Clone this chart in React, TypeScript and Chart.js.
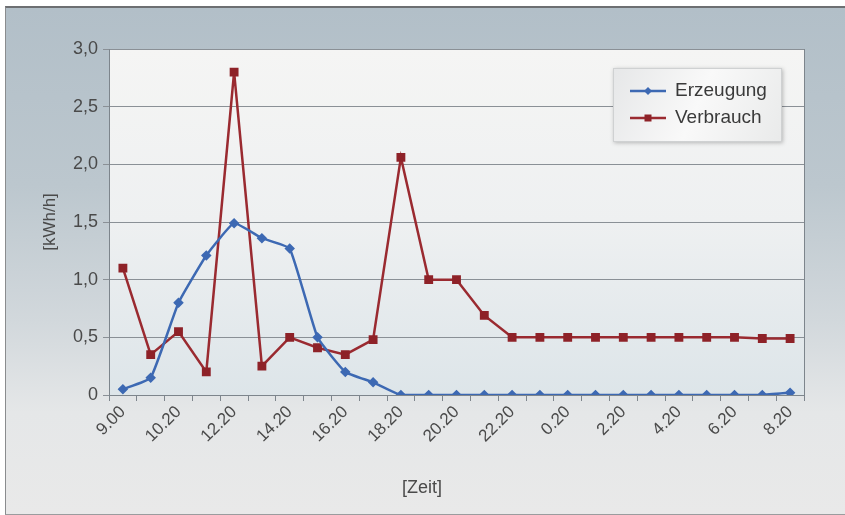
import { useEffect, useRef } from "react";
import { Chart, registerables } from "chart.js";

Chart.register(...registerables);

const times = [
  "9.00", "9.20", "10.20", "11.20", "12.20", "13.20", "14.20", "15.20", "16.20",
  "17.20", "18.20", "19.20", "20.20", "21.20", "22.20", "23.20", "0.20", "1.20",
  "2.20", "3.20", "4.20", "5.20", "6.20", "7.20", "8.20",
];

const erzeugung = [
  0.05, 0.15, 0.8, 1.21, 1.49, 1.36, 1.27, 0.5, 0.2, 0.11, 0, 0, 0,
  0, 0, 0, 0, 0, 0, 0, 0, 0, 0, 0, 0.02,
];

const verbrauch = [
  1.1, 0.35, 0.55, 0.2, 2.8, 0.25, 0.5, 0.41, 0.35, 0.48, 2.06, 1.0, 1.0,
  0.69, 0.5, 0.5, 0.5, 0.5, 0.5, 0.5, 0.5, 0.5, 0.5, 0.49, 0.49,
];

const FONT = "'Liberation Sans', Arial, Helvetica, sans-serif";
const TEXT = "#4a4a4a";
const BLUE = "#3d69b3";
const RED = "#9a2a30";

// plot background, right border, legend box and x-axis title
const decorations = {
  id: "decorations",
  beforeDraw(chart: any) {
    const { ctx, chartArea: a } = chart;
    const g = ctx.createLinearGradient(0, a.top, 0, a.bottom);
    g.addColorStop(0, "#f5f5f4");
    g.addColorStop(0.5, "#eef0f1");
    g.addColorStop(1, "#dde5e9");
    ctx.save();
    ctx.fillStyle = g;
    ctx.fillRect(a.left, a.top, a.right - a.left, a.bottom - a.top);
    ctx.restore();
  },
  afterDraw(chart: any) {
    const { ctx, chartArea: a } = chart;
    ctx.save();
    ctx.strokeStyle = "#7d858c";
    ctx.lineWidth = 1;
    ctx.beginPath();
    ctx.moveTo(a.right + 0.5, a.top);
    ctx.lineTo(a.right + 0.5, a.bottom);
    ctx.stroke();

    // legend
    const w = 169;
    const h = 74;
    const x = a.right - 22 - w;
    const y = a.top + 19;
    ctx.shadowColor = "rgba(0,0,0,0.25)";
    ctx.shadowBlur = 4;
    ctx.shadowOffsetX = 1;
    ctx.shadowOffsetY = 1;
    const lg = ctx.createLinearGradient(x, y, x + w, y + h);
    lg.addColorStop(0, "#e6e7e8");
    lg.addColorStop(0.5, "#f9f9f9");
    lg.addColorStop(1, "#e9eaea");
    ctx.fillStyle = lg;
    ctx.fillRect(x, y, w, h);
    ctx.shadowColor = "transparent";
    ctx.strokeStyle = "#cfd1d2";
    ctx.strokeRect(x + 0.5, y + 0.5, w - 1, h - 1);

    chart.data.datasets.forEach((ds: any, i: number) => {
      const ly = y + 23 + i * 27;
      ctx.strokeStyle = ds.borderColor;
      ctx.lineWidth = 2.5;
      ctx.beginPath();
      ctx.moveTo(x + 17, ly);
      ctx.lineTo(x + 53, ly);
      ctx.stroke();
      ctx.fillStyle = ds.pointBackgroundColor;
      if (ds.pointStyle === "rect") {
        ctx.fillRect(x + 35 - 3.5, ly - 3.5, 7, 7);
      } else {
        ctx.beginPath();
        ctx.moveTo(x + 35, ly - 4);
        ctx.lineTo(x + 39, ly);
        ctx.lineTo(x + 35, ly + 4);
        ctx.lineTo(x + 31, ly);
        ctx.closePath();
        ctx.fill();
      }
      ctx.fillStyle = "#3a3a3a";
      ctx.font = `19px ${FONT}`;
      ctx.textBaseline = "middle";
      ctx.textAlign = "left";
      ctx.fillText(ds.label, x + 62, ly);
    });

    // x-axis title
    ctx.fillStyle = TEXT;
    ctx.font = `18px ${FONT}`;
    ctx.textAlign = "center";
    ctx.textBaseline = "middle";
    ctx.fillText("[Zeit]", 416, 480);
    ctx.restore();
  },
};

export default function App() {
  const canvasRef = useRef<HTMLCanvasElement>(null);
  const chartRef = useRef<Chart | null>(null);

  useEffect(() => {
    document.body.style.margin = "0";
    if (!canvasRef.current) return;
    if (chartRef.current) chartRef.current.destroy();

    chartRef.current = new Chart(canvasRef.current, {
      type: "line",
      data: {
        labels: times,
        datasets: [
          {
            label: "Erzeugung",
            data: erzeugung,
            borderColor: BLUE,
            backgroundColor: BLUE,
            pointBackgroundColor: BLUE,
            pointBorderColor: BLUE,
            pointStyle: "rectRot",
            pointRadius: 3.5,
            borderWidth: 2.5,
            tension: 0.12,
          },
          {
            label: "Verbrauch",
            data: verbrauch,
            borderColor: RED,
            backgroundColor: RED,
            pointBackgroundColor: "#8e2228",
            pointBorderColor: "#8e2228",
            pointStyle: "rect",
            pointRadius: 4.5,
            borderWidth: 2.5,
            tension: 0,
          },
        ],
      },
      options: {
        responsive: true,
        maintainAspectRatio: false,
        animation: false,
        layout: { padding: { left: 34, top: 41, right: 41, bottom: 0 } },
        plugins: {
          legend: { display: false },
          tooltip: { enabled: false },
        },
        scales: {
          x: {
            offset: true,
            afterFit: (s: any) => {
              s.height = 119;
            },
            grid: {
              offset: true,
              drawOnChartArea: false,
              drawTicks: true,
              tickLength: 6,
              color: "#7d858c",
            },
            border: { color: "#7d858c", width: 1 },
            ticks: {
              autoSkip: false,
              minRotation: 45,
              maxRotation: 45,
              padding: 1,
              color: TEXT,
              font: { family: FONT, size: 17 },
              callback: (_v: any, i: number) => (i % 2 === 0 ? times[i] : ""),
            },
          },
          y: {
            min: 0,
            max: 3,
            afterFit: (s: any) => {
              s.width = 69;
            },
            grid: {
              color: "#8a9096",
              lineWidth: 1,
              tickLength: 6,
            },
            border: { color: "#7d858c", width: 1 },
            ticks: {
              stepSize: 0.5,
              padding: 5,
              color: TEXT,
              font: { family: FONT, size: 18 },
              callback: (v: any) =>
                Number(v) === 0 ? "0" : Number(v).toFixed(1).replace(".", ","),
            },
            title: {
              display: true,
              text: "[kWh/h]",
              color: TEXT,
              padding: { top: 0, bottom: 0 },
              font: { family: FONT, size: 17 },
            },
          },
        },
      },
      plugins: [decorations],
    });

    return () => {
      if (chartRef.current) {
        chartRef.current.destroy();
        chartRef.current = null;
      }
    };
  }, []);

  return (
    <div
      style={{
        width: 840,
        height: 509,
        position: "relative",
        boxSizing: "border-box",
        borderTop: "2px solid #6d6f72",
        borderLeft: "1px solid #8a8c8e",
        borderBottom: "1px solid #9a9c9e",
        marginTop: 6,
        marginLeft: 5,
        background:
          "linear-gradient(180deg, #b2bfc8 0%, #bcc7ce 35%, #d2d8dc 62%, #e5e7e8 80%, #e9e9e9 100%)",
      }}
    >
      <canvas ref={canvasRef}></canvas>
    </div>
  );
}
